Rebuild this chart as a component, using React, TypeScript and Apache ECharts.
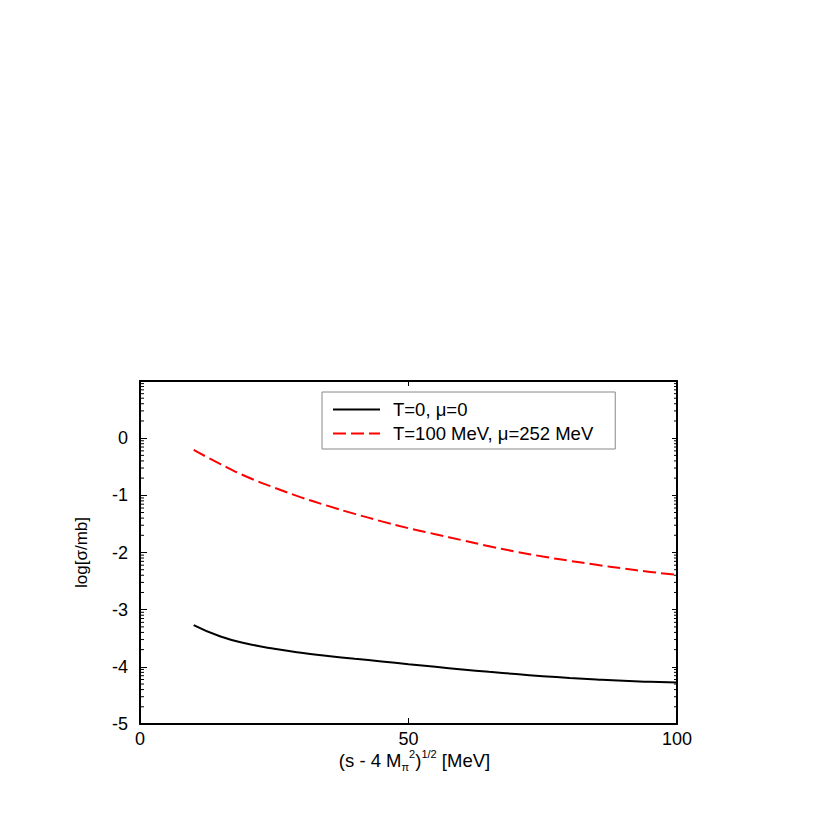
import React, { useEffect, useRef } from "react";
import * as echarts from "echarts";

const xValues = [10, 15, 20, 25, 30, 35, 40, 45, 50, 55, 60, 65, 70, 75, 80, 85, 90, 95, 100];
const blackValues = [-3.27, -3.47, -3.595, -3.685, -3.755, -3.81, -3.86, -3.905, -3.955, -4.0, -4.045, -4.088, -4.127, -4.163, -4.195, -4.222, -4.245, -4.262, -4.275];
const redValues = [-0.205, -0.455, -0.68, -0.865, -1.035, -1.185, -1.325, -1.455, -1.575, -1.68, -1.785, -1.89, -1.985, -2.07, -2.145, -2.215, -2.28, -2.34, -2.39];
const seriesNames = ["T=0, μ=0", "T=100 MeV, μ=252 MeV"];
const decades = [-5, -4, -3, -2, -1, 0];
const minorMultipliers = [2, 3, 4, 5, 6, 7, 8, 9];

const FONT = "'Liberation Sans', Arial, Helvetica, sans-serif";

export default function App() {
  const ref = useRef<HTMLDivElement>(null);
  useEffect(() => {
    if (!ref.current) return;
    const chart = echarts.init(ref.current, undefined, { renderer: "svg" });
    const minorTicks: number[][] = [];
    decades.forEach((d) => minorMultipliers.forEach((k) => minorTicks.push([0, d + Math.log10(k)])));
    const blackData = xValues.map((x, i) => [x, blackValues[i]]);
    const redData = xValues.map((x, i) => [x, redValues[i]]);
    const axisLine = { show: true, onZero: false, lineStyle: { color: "#000", width: 2 } };
    chart.setOption({
      animation: false,
      backgroundColor: "#fff",
      textStyle: { fontFamily: FONT },
      grid: { left: 140, right: 140, top: 381, bottom: 93, show: false },
      legend: {
        orient: "vertical",
        left: 322,
        top: 392,
        data: seriesNames,
        itemWidth: 47,
        itemHeight: 14,
        itemGap: 5,
        padding: [8, 22, 6, 10],
        borderColor: "#888",
        borderWidth: 1,
        backgroundColor: "#fff",
        itemStyle: { color: "rgba(0,0,0,0)", borderWidth: 0, opacity: 0 },
        textStyle: { fontFamily: FONT, fontSize: 18.5, color: "#000", padding: [0, 0, 0, 8] },
      },
      xAxis: [
        {
          type: "value",
          min: 0,
          max: 100,
          interval: 50,
          position: "bottom",
          axisLine,
          axisTick: { show: true, inside: true, length: 6, lineStyle: { color: "#000", width: 1 } },
          axisLabel: { show: true, color: "#000", fontSize: 18, fontFamily: FONT, margin: 6 },
          splitLine: { show: false },
          name: "{t|(s - 4 M}{sub|π}{sup|2}{t|)}{sup2|1/2}{t| [MeV]}",
          nameLocation: "middle",
          nameGap: 24,
          nameTextStyle: {
            fontFamily: FONT,
            color: "#000",
            fontSize: 18,
            padding: [0, 0, 0, 12],
            rich: {
              t: { fontFamily: FONT, fontSize: 18.5, color: "#000", lineHeight: 24, verticalAlign: "middle" },
              sub: { fontFamily: FONT, fontSize: 11, color: "#000", lineHeight: 12, verticalAlign: "bottom" },
              sup: { fontFamily: FONT, fontSize: 11, color: "#000", lineHeight: 12, verticalAlign: "top" },
              sup2: { fontFamily: FONT, fontSize: 11, color: "#000", lineHeight: 10, verticalAlign: "top" },
            },
          },
        },
        {
          type: "value",
          min: 0,
          max: 100,
          interval: 50,
          position: "top",
          axisLine,
          axisTick: { show: true, inside: true, length: 5, lineStyle: { color: "#000", width: 1 } },
          axisLabel: { show: false },
          splitLine: { show: false },
        },
      ],
      yAxis: [
        {
          type: "value",
          min: -5,
          max: 1,
          interval: 1,
          position: "left",
          axisLine,
          axisTick: { show: true, inside: true, length: 7, lineStyle: { color: "#000", width: 1 } },
          axisLabel: {
            show: true,
            color: "#000",
            fontSize: 18,
            fontFamily: FONT,
            margin: 12,
            formatter: (v: number) => (v > 0.5 ? "" : String(v)),
          },
          splitLine: { show: false },
          name: "log[σ/mb]",
          nameLocation: "middle",
          nameGap: 50,
          nameRotate: 90,
          nameTextStyle: { fontFamily: FONT, fontSize: 17, color: "#000" },
        },
        {
          type: "value",
          min: -5,
          max: 1,
          interval: 1,
          position: "right",
          axisLine,
          axisTick: { show: true, inside: true, length: 5, lineStyle: { color: "#000", width: 1 } },
          axisLabel: { show: false },
          splitLine: { show: false },
        },
      ],
      series: [
        {
          name: seriesNames[0],
          type: "line",
          data: blackData,
          symbol: "none",
          smooth: 0.5,
          lineStyle: { color: "#000", width: 2 },
          itemStyle: { color: "#000" },
          z: 3,
        },
        {
          name: seriesNames[1],
          type: "line",
          data: redData,
          symbol: "none",
          smooth: 0.5,
          lineStyle: { color: "#ff0000", width: 2, type: [13, 5] },
          itemStyle: { color: "#ff0000" },
          z: 3,
        },
        {
          name: "minorTicks",
          type: "custom",
          data: minorTicks,
          silent: true,
          renderItem: (params: any, api: any) => {
            const v = api.value(1);
            const l = api.coord([0, v]);
            const r = api.coord([100, v]);
            return {
              type: "group",
              children: [
                { type: "line", shape: { x1: l[0], y1: l[1], x2: l[0] + 4, y2: l[1] }, style: { stroke: "#000", lineWidth: 1 } },
                { type: "line", shape: { x1: r[0], y1: r[1], x2: r[0] - 3, y2: r[1] }, style: { stroke: "#000", lineWidth: 1 } },
              ],
            };
          },
        },
      ],
    });
    return () => chart.dispose();
  }, []);
  return <div ref={ref} style={{ position: "fixed", left: 0, top: 0, width: 817, height: 817, background: "#fff" }} />;
}
